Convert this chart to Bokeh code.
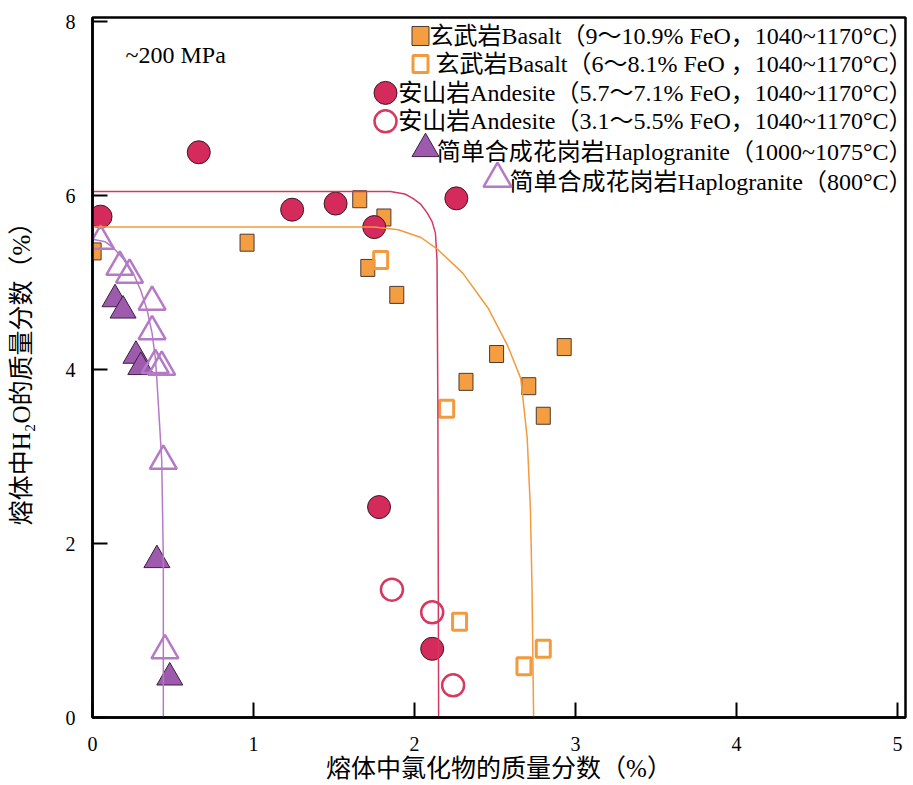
from bokeh.plotting import figure
from bokeh.models import Range1d, FixedTicker
from bokeh.core.properties import value
from bokeh.embed import file_html
from bokeh.resources import INLINE

# ---------------- data ----------------
# Basalt 9~10.9% FeO (filled squares)
basalt_hi_x = [0.01, 0.96, 1.66, 1.81, 1.71, 1.89, 2.32, 2.51, 2.71, 2.80, 2.93]
basalt_hi_y = [5.36, 5.46, 5.96, 5.75, 5.17, 4.86, 3.86, 4.18, 3.81, 3.47, 4.26]
# Basalt 6~8.1% FeO (open squares)
basalt_lo_x = [1.79, 2.20, 2.28, 2.68, 2.80]
basalt_lo_y = [5.26, 3.55, 1.10, 0.59, 0.79]
# Andesite 5.7~7.1% FeO (filled circles)
andes_hi_x = [0.05, 0.66, 1.24, 1.51, 1.75, 2.26, 1.78, 2.11]
andes_hi_y = [5.76, 6.50, 5.84, 5.91, 5.64, 5.97, 2.42, 0.79]
# Andesite 3.1~5.5% FeO (open circles)
andes_lo_x = [1.86, 2.11, 2.24]
andes_lo_y = [1.47, 1.21, 0.37]
# Haplogranite 1000~1075 C (filled triangles)
hapl_hot_x = [0.14, 0.19, 0.27, 0.30, 0.40, 0.48]
hapl_hot_y = [4.81, 4.68, 4.16, 4.03, 1.81, 0.46]
# Haplogranite 800 C (open triangles)
hapl_800_x = [0.05, 0.17, 0.23, 0.37, 0.37, 0.39, 0.43, 0.44, 0.45]
hapl_800_y = [5.48, 5.18, 5.09, 4.78, 4.44, 4.05, 4.03, 2.95, 0.77]

# trend curves
andes_curve_x = [0.0, 1.50, 1.85, 1.94, 1.99, 2.04, 2.08, 2.11, 2.13, 2.14, 2.145, 2.15]
andes_curve_y = [6.05, 6.05, 6.05, 6.02, 5.97, 5.90, 5.80, 5.70, 5.57, 5.26, 3.65, 0.0]
basalt_curve_x = [0.0, 1.50, 1.75, 1.90, 2.04, 2.14, 2.30, 2.46, 2.58, 2.66, 2.70, 2.72, 2.73, 2.74]
basalt_curve_y = [5.64, 5.64, 5.64, 5.61, 5.52, 5.39, 5.11, 4.70, 4.27, 3.90, 3.22, 2.40, 1.50, 0.0]
hapl_curve_x = [0.0, 0.08, 0.13, 0.19, 0.25, 0.30, 0.34, 0.37, 0.39, 0.40, 0.43, 0.44, 0.44]
hapl_curve_y = [5.50, 5.47, 5.40, 5.28, 5.12, 4.91, 4.68, 4.42, 4.14, 3.88, 2.96, 1.81, 0.0]

x_ticks = [0, 1, 2, 3, 4, 5]
y_ticks = [0, 2, 4, 6, 8]

legend_labels = [
    "玄武岩Basalt（9～10.9% FeO，1040~1170°C）",
    "玄武岩Basalt（6～8.1% FeO ，1040~1170°C）",
    "安山岩Andesite（5.7～7.1% FeO，1040~1170°C）",
    "安山岩Andesite（3.1～5.5% FeO，1040~1170°C）",
    "简单合成花岗岩Haplogranite（1000~1075°C）",
    "简单合成花岗岩Haplogranite（800°C）",
]

# ---------------- layout ----------------
X_END = 5.05
Y_END = 8.05
FRAME_L, FRAME_T, FRAME_W, FRAME_H = 92, 17, 813, 701  # page pixels


def px_x(px):
    return (px - FRAME_L) / FRAME_W * X_END


def px_y(py):
    return (FRAME_T + FRAME_H - py) / FRAME_H * Y_END


FONT_NAME = "Liberation Serif, Noto Sans CJK SC"
SERIF = value(FONT_NAME)

ORANGE = "#F49D41"
ORANGE_LINE = "#F39A3C"
RED = "#D42A5C"
RED_LINE = "#D6385F"
PURPLE = "#9E5BAE"
PURPLE_LINE = "#B57AC6"
DARK = "#4a3a33"

p = figure(width=912, height=784,
           x_range=Range1d(0, X_END), y_range=Range1d(0, Y_END),
           output_backend="svg", toolbar_location=None,
           min_border_left=92, min_border_right=7,
           min_border_top=17, min_border_bottom=66)
p.background_fill_color = "white"
p.border_fill_color = "white"
p.xgrid.visible = False
p.ygrid.visible = False
p.outline_line_color = "black"
p.outline_line_width = 2.5
p.outline_line_alpha = 1.0

p.xaxis.ticker = FixedTicker(ticks=x_ticks)
p.yaxis.ticker = FixedTicker(ticks=y_ticks)
for ax in (p.xaxis[0], p.yaxis[0]):
    ax.axis_line_color = "black"
    ax.axis_line_width = 2.5
    ax.major_tick_line_color = "black"
    ax.major_tick_line_width = 2
    ax.major_tick_in = 15
    ax.major_tick_out = 0
    ax.minor_tick_in = 0
    ax.minor_tick_out = 0
    ax.major_label_text_font = FONT_NAME
    ax.major_label_text_font_size = "20px"
    ax.major_label_text_color = "black"
    ax.axis_label_text_font = FONT_NAME
    ax.axis_label_text_font_style = "normal"
    ax.axis_label_text_font_size = "25px"
    ax.axis_label_text_color = "black"

p.xaxis.axis_label = "熔体中氯化物的质量分数（%）"
p.yaxis.axis_label = "熔体中H₂O的质量分数（%）"
p.xaxis.major_label_standoff = 19
p.xaxis.axis_label_standoff = 1
p.yaxis.major_label_standoff = 17
p.yaxis.axis_label_standoff = 28

# ---------------- data marks ----------------
p.rect(basalt_hi_x, basalt_hi_y, width=14, height=17, width_units="screen", height_units="screen",
       fill_color=ORANGE, line_color=DARK, line_width=1)
p.rect(basalt_lo_x, basalt_lo_y, width=14, height=17, width_units="screen", height_units="screen",
       fill_color=None, line_color=ORANGE_LINE, line_width=3)
p.scatter(andes_hi_x, andes_hi_y, marker="circle", size=23,
          fill_color=RED, line_color="#3a1a24", line_width=1)
p.scatter(andes_lo_x, andes_lo_y, marker="circle", size=22,
          fill_color=None, line_color=RED_LINE, line_width=2.5)
p.scatter(hapl_hot_x, hapl_hot_y, marker="triangle", size=26,
          fill_color=PURPLE, line_color="#3a2040", line_width=1)
p.scatter(hapl_800_x, hapl_800_y, marker="triangle", size=27,
          fill_color=None, line_color=PURPLE_LINE, line_width=2.5)

p.line(andes_curve_x, andes_curve_y, line_color=RED_LINE, line_width=1.5)
p.line(basalt_curve_x, basalt_curve_y, line_color=ORANGE_LINE, line_width=1.5)
p.line(hapl_curve_x, hapl_curve_y, line_color=PURPLE_LINE, line_width=1.5)

# ---------------- annotation text ----------------
p.text(x=[px_x(125)], y=[px_y(55)], text=["~200 MPa"], text_font=SERIF,
       text_font_size="24px", text_align="left", text_baseline="middle", text_color="black")

# ---------------- legend (right-aligned rows, keys just left of text) ----------------
row_py = [35.5, 63.5, 92.5, 121, 151.5, 181.5]
row_y = [px_y(v) for v in row_py]
text_x = [px_x(912)] * 6
p.text(x=text_x, y=row_y, text=legend_labels, text_font=SERIF, text_font_size="24px",
       text_align="right", text_baseline="middle", text_color="black")

key_px = [420, 420, 385, 385, 425, 497]
key_x = [px_x(v) for v in key_px]
tri_shift = px_y(0) - px_y(3)
p.rect([key_x[0]], [row_y[0]], width=17, height=19, width_units="screen", height_units="screen",
       fill_color=ORANGE, line_color=DARK, line_width=1)
p.rect([key_x[1]], [row_y[1]], width=15, height=17, width_units="screen", height_units="screen",
       fill_color=None, line_color=ORANGE_LINE, line_width=3)
p.scatter([key_x[2]], [row_y[2]], marker="circle", size=23,
          fill_color=RED, line_color="#3a1a24", line_width=1)
p.scatter([key_x[3]], [row_y[3]], marker="circle", size=22,
          fill_color=None, line_color=RED_LINE, line_width=2.5)
p.scatter([key_x[4]], [row_y[4] + tri_shift], marker="triangle", size=27,
          fill_color=PURPLE, line_color="#3a2040", line_width=1)
p.scatter([key_x[5]], [row_y[5] + tri_shift], marker="triangle", size=28,
          fill_color=None, line_color=PURPLE_LINE, line_width=2.5)

open("out.html", "w").write(file_html(p, INLINE))
